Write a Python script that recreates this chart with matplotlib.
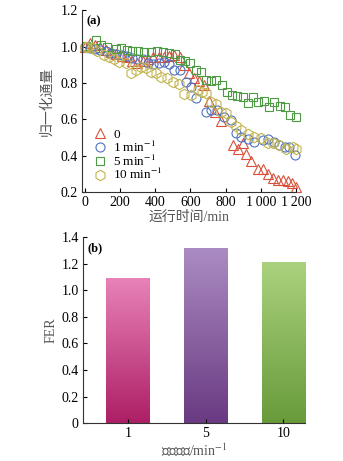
import numpy as np
import matplotlib.pyplot as plt
from matplotlib.colors import LinearSegmentedColormap

plt.rcParams['font.family'] = ['Liberation Serif', 'Noto Sans CJK SC', 'DejaVu Sans']
plt.rcParams['font.size'] = 10
plt.rcParams['mathtext.fontset'] = 'stix'

# (a) 归一化通量
t0 = [0, 30, 60, 90, 120, 150, 180, 210, 240, 270, 300, 330, 360, 390, 420, 450, 480, 510, 540,
      565, 593, 622, 650, 679, 707, 740, 774, 840, 868, 897, 916, 944, 982, 1011, 1039, 1068,
      1096, 1125, 1153, 1175, 1200]
v0 = [1.0, 1.02, 1.01, 1.0, 0.98, 0.97, 0.96, 0.95, 0.94, 0.92, 0.91, 0.92, 0.93, 0.94, 0.945,
      0.945, 0.95, 0.955, 0.945, 0.90, 0.855, 0.83, 0.81, 0.79, 0.70, 0.64, 0.59, 0.46, 0.44,
      0.47, 0.41, 0.37, 0.33, 0.33, 0.30, 0.28, 0.265, 0.265, 0.26, 0.25, 0.23]

t1 = [0, 30, 60, 90, 120, 150, 180, 210, 240, 270, 300, 330, 360, 390, 420, 450, 480, 510, 540,
      574, 603, 631, 688, 720, 754, 792, 830, 858, 887, 925, 963, 1010, 1039, 1077, 1105, 1135,
      1162, 1194]
v1 = [1.0, 0.99, 0.985, 0.98, 0.975, 0.965, 0.96, 0.955, 0.95, 0.935, 0.93, 0.93, 0.91, 0.905,
      0.912, 0.917, 0.903, 0.872, 0.872, 0.807, 0.78, 0.716, 0.642, 0.651, 0.651, 0.615, 0.596,
      0.523, 0.505, 0.49, 0.477, 0.486, 0.49, 0.477, 0.46, 0.45, 0.45, 0.404]

t5 = [6, 63, 95, 129, 176, 209, 239, 271, 305, 337, 379, 413, 447, 480, 512, 540, 567, 599, 631,
      660, 688, 717, 745, 778, 806, 834, 864, 897, 925, 954, 986, 1016, 1048, 1077, 1111, 1138,
      1168, 1200]
v5 = [1.005, 1.037, 1.009, 1.0, 0.987, 0.99, 0.98, 0.976, 0.978, 0.969, 0.972, 0.978, 0.972,
      0.963, 0.96, 0.927, 0.918, 0.909, 0.872, 0.863, 0.817, 0.811, 0.817, 0.789, 0.752, 0.734,
      0.729, 0.725, 0.689, 0.725, 0.697, 0.703, 0.67, 0.697, 0.673, 0.666, 0.624, 0.615]

t10 = [0, 15, 44, 72, 110, 138, 167, 195, 233, 262, 290, 319, 347, 375, 404, 432, 470, 502, 537,
       565, 603, 641, 669, 688, 717, 745, 773, 802, 830, 858, 887, 925, 963, 1001, 1039, 1067,
       1105, 1143, 1181, 1200]
v10 = [1.0, 1.0, 0.99, 0.973, 0.954, 0.945, 0.93, 0.917, 0.909, 0.854, 0.872, 0.89, 0.881, 0.862,
       0.854, 0.835, 0.826, 0.807, 0.794, 0.739, 0.734, 0.761, 0.752, 0.747, 0.697, 0.683, 0.642,
       0.633, 0.587, 0.563, 0.541, 0.519, 0.505, 0.5, 0.468, 0.468, 0.459, 0.44, 0.45, 0.44]

# (b) FER
freq = ['1', '5', '10']
fer = [1.09, 1.32, 1.21]
bar_top = ['#e883b8', '#ab8cc2', '#aad27e']
bar_bot = ['#ad1f66', '#6a3a82', '#689a3a']

fig = plt.figure(figsize=(3.43, 4.61), dpi=100)
ax1 = fig.add_axes([0.239, 0.583, 0.624, 0.395])
ax2 = fig.add_axes([0.242, 0.082, 0.647, 0.404])

series = [(t0, v0, '^', 6.5, '#d8503a', '0'),
          (t1, v1, 'o', 6.5, '#4f72c0', '1 min$^{-1}$'),
          (t5, v5, 's', 6.3, '#4f9a45', '5 min$^{-1}$'),
          (t10, v10, 'h', 7.5, '#c2b44e', '10 min$^{-1}$')]
for t, v, m, s, c, lab in series:
    ax1.plot(t, v, ls='none', marker=m, ms=s, mfc='none', mec=c, mew=0.8,
             label=lab, clip_on=False)

ax1.set_xlim(-15, 1200)
ax1.set_ylim(0.2, 1.2)
ax1.set_xticks([0, 200, 400, 600, 800, 1000, 1200])
ax1.set_xticklabels(['0', '200', '400', '600', '800', '1\u2009000', '1\u2009200'])
ax1.set_yticks([0.2, 0.4, 0.6, 0.8, 1.0, 1.2])
ax1.set_yticklabels(['0.2', '0.4', '0.6', '0.8', '1.0', '1.2'])
ax1.set_xlabel('运行时间/min', color='#555555', labelpad=1)
ax1.set_ylabel('归一化通量', color='#555555', labelpad=5)
ax1.text(0.02, 0.97, '(a)', transform=ax1.transAxes, fontweight='bold', va='top', fontsize=9)
ax1.legend(loc='lower left', bbox_to_anchor=(0.03, 0.025), frameon=False, handlelength=1,
           handletextpad=0.5, labelspacing=-0.1, borderaxespad=0, fontsize=9.5)

x = np.arange(len(freq))
bars = ax2.bar(x, fer, width=0.555, color='none', edgecolor='none')
grad = np.linspace(0, 1, 256).reshape(-1, 1)
for b, c_top, c_bot in zip(bars, bar_top, bar_bot):
    cmap = LinearSegmentedColormap.from_list('g', [c_bot, c_top])
    x0, y0 = b.get_x(), b.get_y()
    im = ax2.imshow(grad, cmap=cmap, origin='lower', aspect='auto',
                    extent=[x0, x0 + b.get_width(), y0, y0 + b.get_height()])
    im.set_clip_path(b)

ax2.set_xlim(-0.58, 2.28)
ax2.set_ylim(0, 1.4)
ax2.set_xticks(x)
ax2.set_xticklabels(freq)
ax2.set_yticks([0, 0.2, 0.4, 0.6, 0.8, 1.0, 1.2, 1.4])
ax2.set_yticklabels(['0', '0.2', '0.4', '0.6', '0.8', '1.0', '1.2', '1.4'])
ax2.set_xlabel('脉冲频率/min$^{-1}$', color='#555555', labelpad=1)
ax2.set_ylabel('FER', color='#555555', labelpad=3)
ax2.text(0.02, 0.97, '(b)', transform=ax2.transAxes, fontweight='bold', va='top', fontsize=9)

for ax in (ax1, ax2):
    ax.spines['top'].set_visible(False)
    ax.spines['right'].set_visible(False)
    ax.spines['left'].set_color('#333333')
    ax.spines['bottom'].set_color('#333333')
    ax.tick_params(direction='in', length=3, width=0.8, pad=3)

fig.savefig('out.png', dpi=100)
